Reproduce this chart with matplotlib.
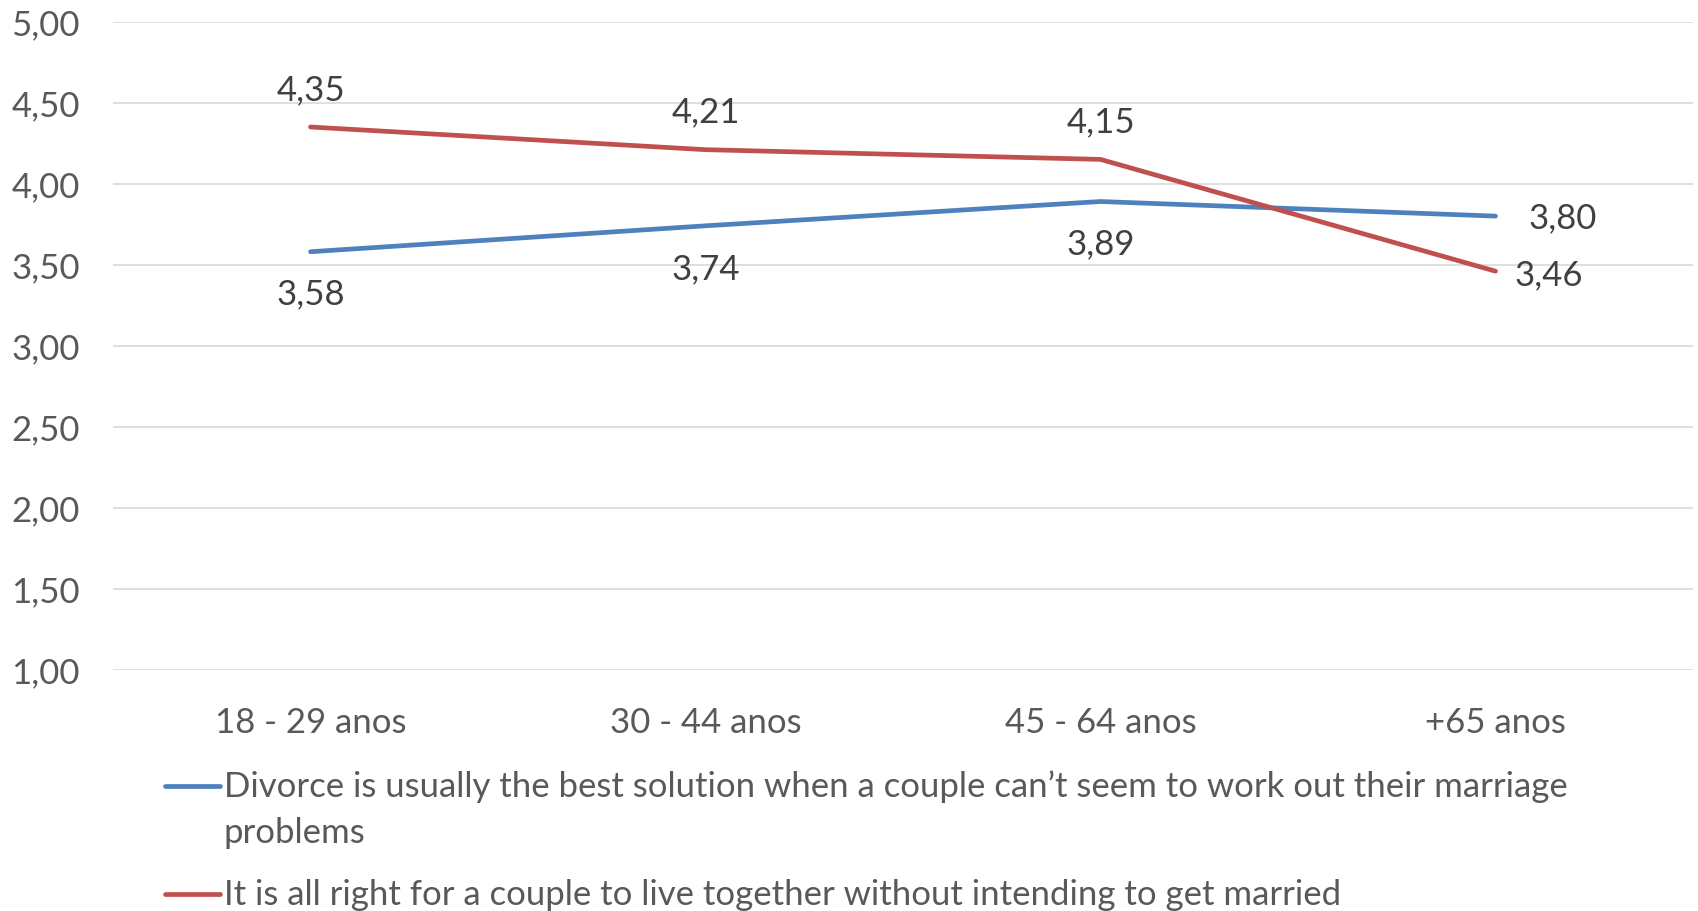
import matplotlib
matplotlib.use("Agg")
import matplotlib.pyplot as plt
from matplotlib.lines import Line2D

# ======================================
# DATOS
# ======================================

grupos = ["18 - 29 anos", "30 - 44 anos", "45 - 64 anos", "+65 anos"]

divorcio = [3.58, 3.74, 3.89, 3.80]
convivencia = [4.35, 4.21, 4.15, 3.46]

series_nombres = [
    ["Divorce is usually the best solution when a couple can\u2019t seem to work out their marriage",
     "problems"],
    ["It is all right for a couple to live together without intending to get married"],
]

y_ticks = [1.0, 1.5, 2.0, 2.5, 3.0, 3.5, 4.0, 4.5, 5.0]

AZUL = "#4F81BD"
ROJO = "#C0504D"
GRIS_TICK = "#595959"
GRIS_LABEL = "#404040"
FS = 25

plt.rcParams["font.family"] = ["Lato", "DejaVu Sans"]


def fmt(v):
    return f"{v:.2f}".replace(".", ",")


# ======================================
# FIGURA
# ======================================

W, H = 1698, 912
fig = plt.figure(figsize=(W / 100, H / 100), dpi=100)
ax = fig.add_axes([113 / W, 1 - 670.7 / H, 1580 / W, (670.7 - 22.7) / H])

x = list(range(len(grupos)))

ax.plot(x, divorcio, color=AZUL, lw=3.4, solid_capstyle="round", zorder=3)
ax.plot(x, convivencia, color=ROJO, lw=3.4, solid_capstyle="round", zorder=3)

ax.set_xlim(-0.5, len(grupos) - 0.5)
ax.set_ylim(1.0, 5.0)
ax.set_yticks(y_ticks)
ax.set_yticklabels([fmt(v) for v in y_ticks])
ax.set_xticks(x)
ax.set_xticklabels(grupos)

ax.grid(axis="y", color="#D9D9D9", lw=1.2, zorder=0)
ax.tick_params(axis="both", length=0, labelsize=FS, colors=GRIS_TICK)
ax.tick_params(axis="x", pad=26)
ax.tick_params(axis="y", pad=24)
for s in ax.spines.values():
    s.set_visible(False)

# etiquetas de datos
for i, (vb, vr) in enumerate(zip(divorcio, convivencia)):
    if i < len(grupos) - 1:
        ax.annotate(fmt(vr), (i, vr), xytext=(0, 38), textcoords="offset pixels",
                    ha="center", va="center", fontsize=FS, color=GRIS_LABEL)
        ax.annotate(fmt(vb), (i, vb), xytext=(0, -42), textcoords="offset pixels",
                    ha="center", va="center", fontsize=FS, color=GRIS_LABEL)
    else:
        ax.annotate(fmt(vb), (i, vb), xytext=(33, -1), textcoords="offset pixels",
                    ha="left", va="center", fontsize=FS, color=GRIS_LABEL)
        ax.annotate(fmt(vr), (i, vr), xytext=(19, -3), textcoords="offset pixels",
                    ha="left", va="center", fontsize=FS, color=GRIS_LABEL)

# ======================================
# LEYENDA
# ======================================

leyenda_y = [787, 895]
for lineas, color, yy in zip(series_nombres, [AZUL, ROJO], leyenda_y):
    fig.add_artist(Line2D([165 / W, 220 / W], [1 - yy / H, 1 - yy / H],
                          color=color, lw=3.4, solid_capstyle="round"))
    for k, txt in enumerate(lineas):
        fig.text(224 / W, 1 - (yy + 46 * k) / H, txt, ha="left", va="center",
                 fontsize=FS, color=GRIS_TICK)

fig.savefig("out.png", dpi=100)
